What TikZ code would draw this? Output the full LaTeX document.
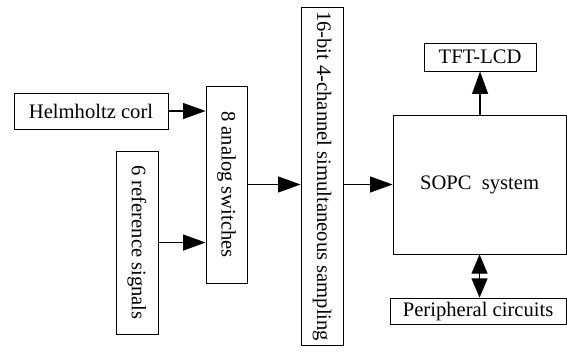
\documentclass[tikz,border=0pt]{standalone}
\usepackage{fontspec}
\setmainfont{Liberation Serif}
\usepackage{graphicx}
\usetikzlibrary{arrows.meta,positioning}

\begin{document}
\begin{tikzpicture}[
  >={Triangle[length=17pt,width=12pt]},
  block/.style={draw, line width=0.6pt, inner sep=0pt, font=\fontsize{15.5}{18}\selectfont},
  link/.style={->, line width=1pt}
]
\useasboundingbox (0,0) rectangle (15,-9.604);

% Input side
\node[block, minimum width=4.075cm, minimum height=0.952cm] (helm) at (2.408,-2.937) {Helmholtz corl};
\node[block, minimum width=1.111cm, minimum height=4.842cm] (refsig) at (3.625,-6.416) {\rotatebox{-90}{6 reference signals}};
\node[block, minimum width=1.085cm, minimum height=5.212cm] (switch) at (5.993,-4.881) {\rotatebox{-90}{8 analog switches}};
\node[block, minimum width=1.111cm, minimum height=8.943cm] (adc) at (8.519,-4.657) {\rotatebox{-90}{16-bit 4-channel simultaneous sampling}};

% Processing side
\node[block, minimum width=4.577cm, minimum height=3.678cm] (sopc) at (12.687,-4.881) {SOPC\ \ system};
\node[block, minimum width=2.963cm, minimum height=0.741cm] (tft) at (12.700,-1.508) {TFT-LCD};
\node[block, minimum width=4.657cm, minimum height=0.688cm] (peri) at (12.647,-8.229) {Peripheral circuits};

% Connectors
\draw[link] (helm.east) -- (helm.east -| switch.west);
\draw[link] (refsig.east) -- (refsig.east -| switch.west);
\draw[link] (switch.east) -- (switch.east -| adc.west);
\draw[link] (adc.east |- sopc.west) -- (sopc.west);
\draw[link] (tft.south |- sopc.north) -- (tft.south);
\draw[link, {Triangle[length=14.5pt,width=12pt]}-{Triangle[length=14.5pt,width=12pt]}] (sopc.south) -- (sopc.south |- peri.north);
\end{tikzpicture}
\end{document}
